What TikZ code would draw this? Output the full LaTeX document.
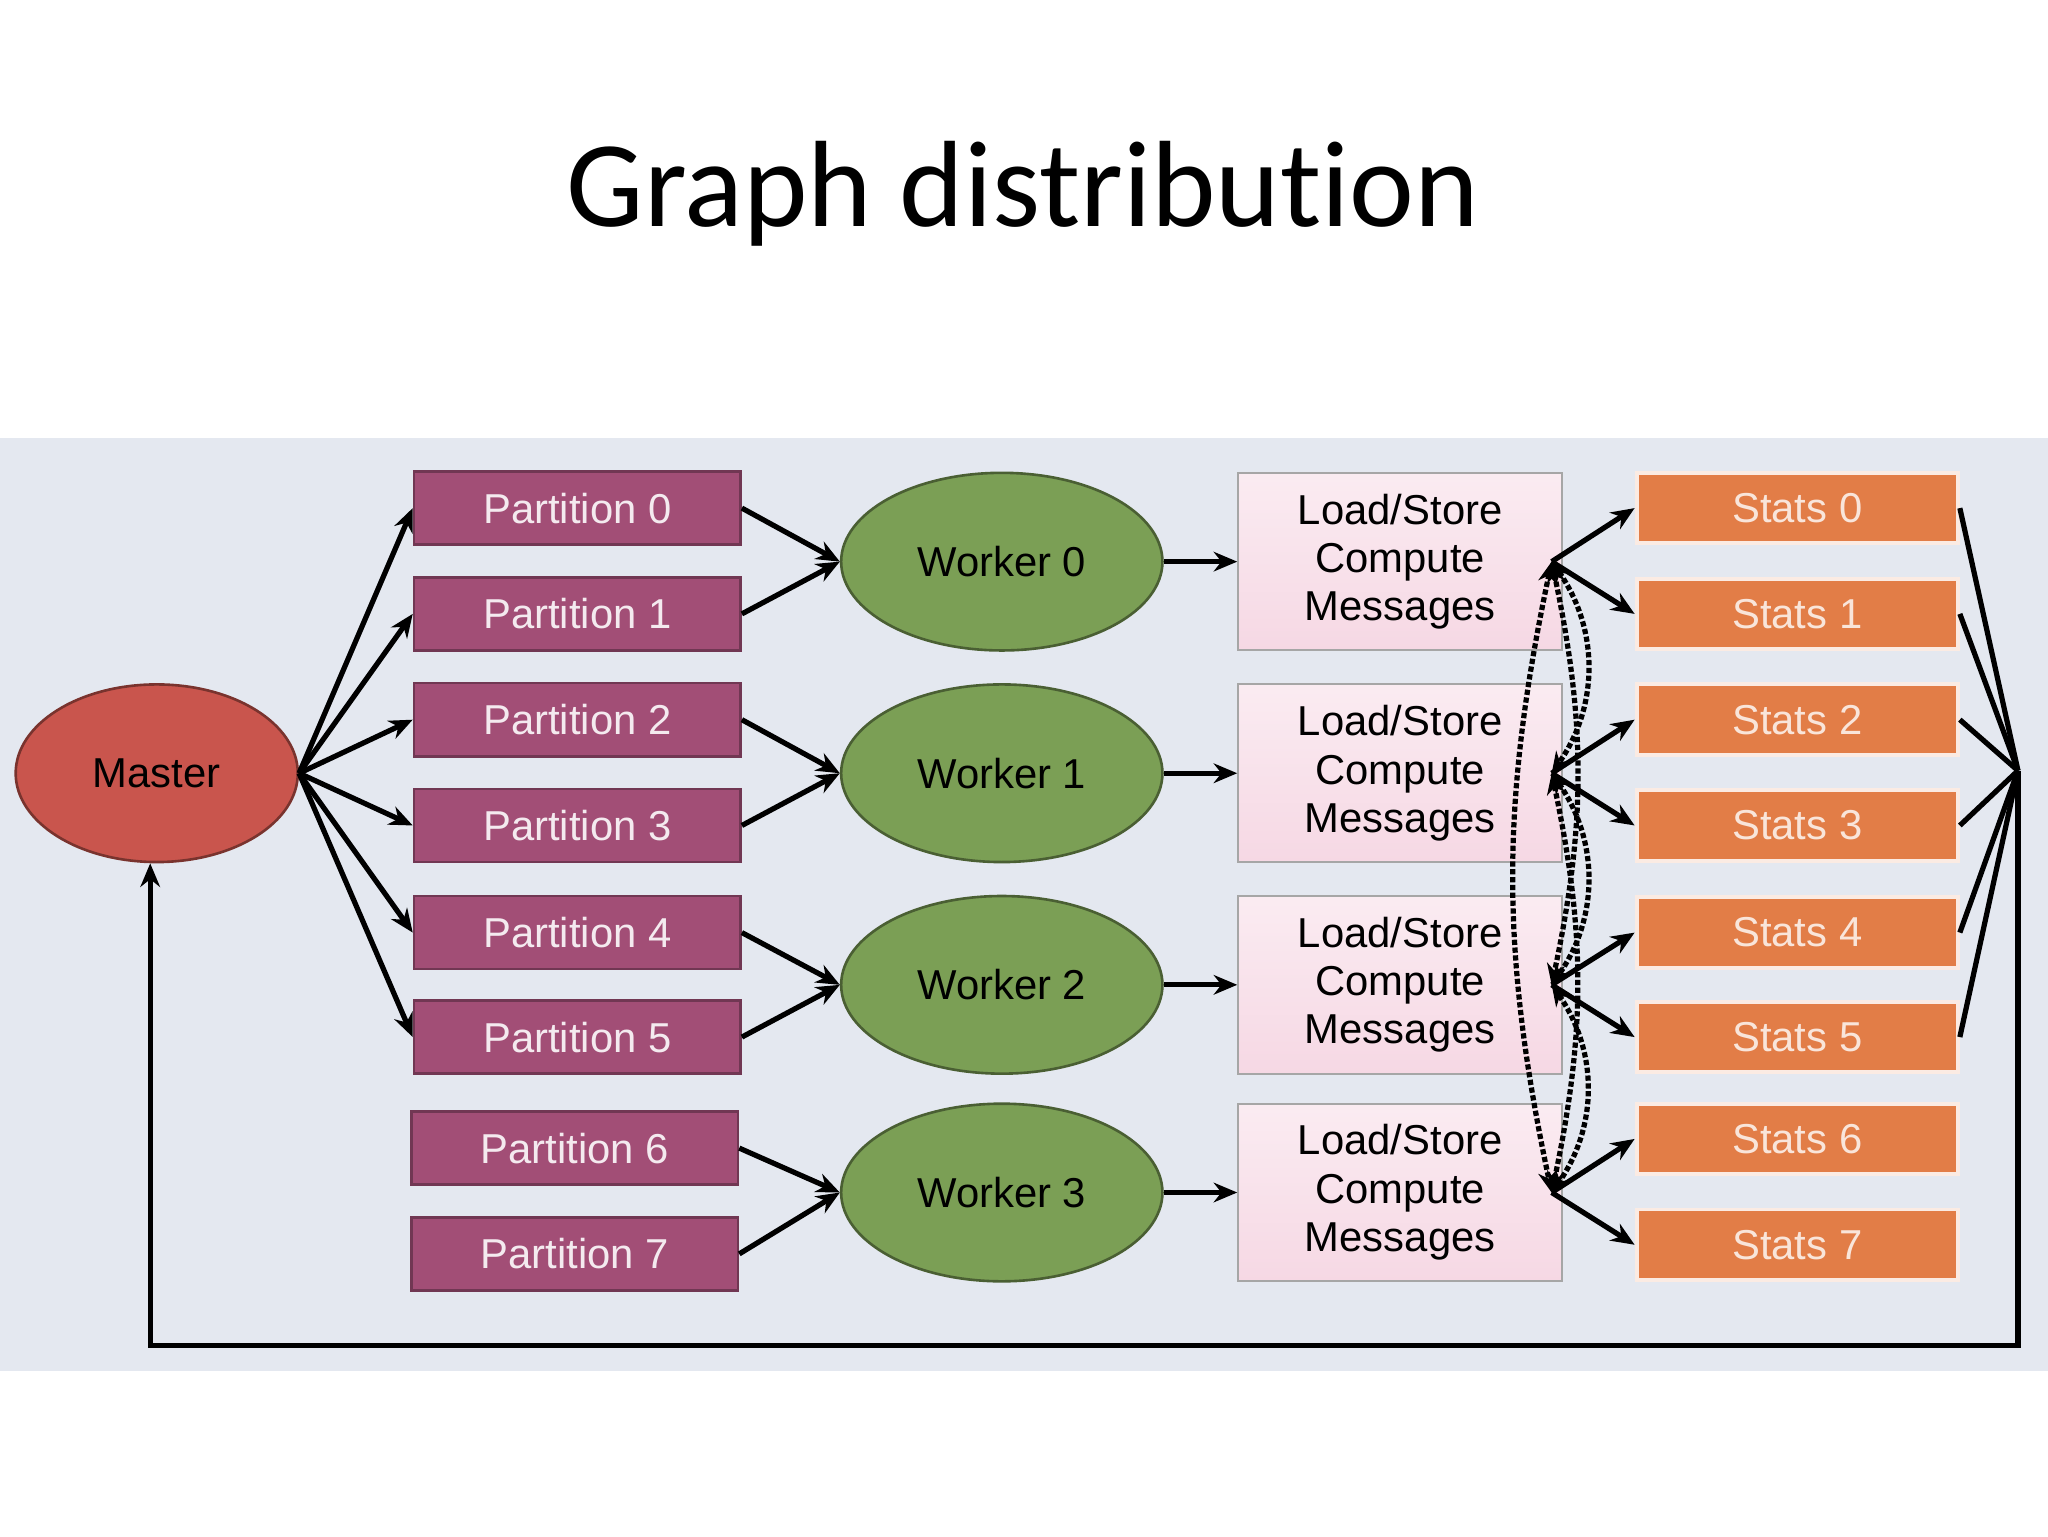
\documentclass[tikz,border=0pt]{standalone}
\usepackage{fontspec}
\setmainfont{Liberation Sans}
\newfontfamily\titlefont{Carlito}[Ligatures=NoCommon]
\usetikzlibrary{shapes.geometric,arrows.meta,calc}
\definecolor{panel}{HTML}{E4E8F0}
\definecolor{masterc}{HTML}{C9554D}
\definecolor{partc}{HTML}{A24E76}
\definecolor{workc}{HTML}{7B9F55}
\definecolor{lsc}{HTML}{F6D8E4}
\definecolor{statc}{HTML}{E27D47}
\tikzset{
  lbl/.style={font=\fontsize{32}{38}\selectfont},
  part/.style={draw=partc!70!black, line width=2pt, fill=partc, text=white!88!partc,
    minimum width=250pt, minimum height=56pt, inner sep=0pt, lbl},
  work/.style={ellipse, draw=workc!60!black, line width=2pt, fill=workc,
    minimum width=246pt, minimum height=136pt, lbl},
  ls/.style={draw=gray!70, line width=1.5pt, top color=lsc!50, bottom color=lsc,
    minimum width=248pt, minimum height=136pt, align=center, inner sep=0pt,
    font=\fontsize{32}{37}\selectfont},
  stat/.style={draw=white!85!statc, line width=3pt, fill=statc, text=white!80!statc,
    minimum width=246pt, minimum height=54pt, inner sep=0pt, lbl},
  arr/.style={-{Stealth[length=18pt,width=15pt]}, line width=4pt},
  dots/.style={{Stealth[length=16pt,width=14pt]}-{Stealth[length=16pt,width=14pt]}, line width=4pt, dotted}
}
\begin{document}
\begin{tikzpicture}[x=1pt,y=-1pt]
\useasboundingbox (0,0) rectangle (1568,1176);
\fill[white] (0,0) rectangle (1568,1176);
\fill[panel] (0,335) rectangle (1568,1050);
\node[font=\titlefont\fontsize{94}{100}\selectfont] (title) at (783,148) {Graph distribution};

\node[ellipse, draw=masterc!60!black, line width=2pt, fill=masterc,
  minimum width=216pt, minimum height=136pt, lbl] (m) at (120,592) {Master};

\foreach \i/\y in {0/389,1/470,2/551,3/632,4/714,5/794}
  \node[part] (p\i) at (442,\y) {Partition \i};
\foreach \i/\y in {6/879,7/960}
  \node[part] (p\i) at (440,\y) {Partition \i};

\foreach \i/\y in {0/430,1/592,2/754,3/913}{
  \node[work] (w\i) at (767,\y) {Worker \i};
  \node[ls] (l\i) at (1072,\y) {Load/Store\\Compute\\Messages};
  \coordinate (h\i) at (1188,\y);
}
\foreach \i/\y in {0/389,1/470,2/551,3/632,4/714,5/794,6/872,7/953}
  \node[stat] (s\i) at (1376,\y) {Stats \i};

\foreach \i in {0,...,5} \draw[arr] (m.east) -- (p\i.west);
\foreach \i/\w in {0/0,1/0,2/1,3/1,4/2,5/2,6/3,7/3} \draw[arr] (p\i.east) -- (w\w.west);
\foreach \i in {0,...,3} \draw[arr] (w\i.east) -- (l\i.west);
\foreach \i/\h in {0/0,1/0,2/1,3/1,4/2,5/2,6/3,7/3} \draw[arr] (h\h) -- (s\i.west);

% message exchange
\draw[dots] (h0) to[bend right=12] (h3);
\draw[dots] (h0) to[bend left=35] (h1);
\draw[dots] (h1) to[bend left=35] (h2);
\draw[dots] (h2) to[bend left=35] (h3);
\draw[dots] (h0) to[bend left=12] (h2);
\draw[dots] (h1) to[bend left=12] (h3);

% statistics back to master
\coordinate (j) at (1545,590);
\foreach \i in {0,...,5} \draw[line width=4pt] (s\i.east) -- (j);
\draw[arr] (j) -- (1545,1030) -- (115,1030) -- (m.south -| 115,0);
\end{tikzpicture}
\end{document}
